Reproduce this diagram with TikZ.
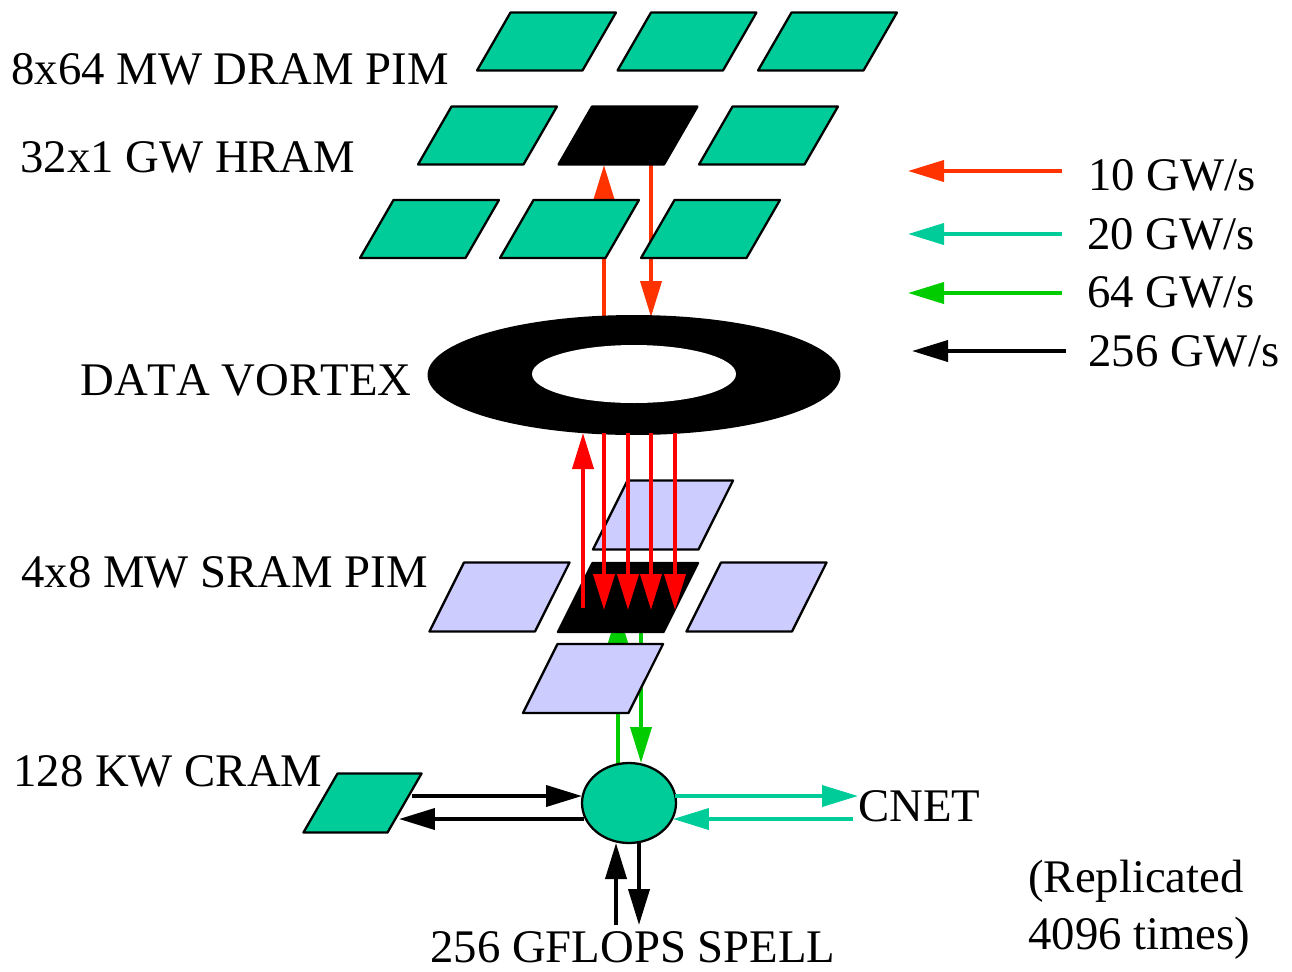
\documentclass[tikz,border=0pt]{standalone}
\usepackage{fontspec}
\setmainfont[Kerning=Off]{Liberation Serif}
\usepackage{tikz}
\usetikzlibrary{arrows.meta,shapes.geometric}

\definecolor{cellteal}{RGB}{0,204,153}
\definecolor{celllav}{RGB}{204,204,255}
\definecolor{arcorange}{RGB}{255,51,0}
\definecolor{arcgreen}{RGB}{0,204,0}

\tikzset{
    cell/.style 2 args={draw=black,line width=1.3pt,line join=round,trapezium,
        trapezium left angle=60,trapezium right angle=120,inner sep=0,outer sep=0,
        execute at begin node={\phantom{\rule{#1}{#2}}}},
    srcell/.style={cell={1.42cm}{1.38cm},fill=celllav,trapezium left angle=63.4,trapezium right angle=116.6},
    dramcell/.style={cell={1.44cm}{1.16cm},fill=cellteal},
    cramcell/.style={cell={1cm}{1.18cm},fill=cellteal},
    arc/.style={line width=2.2pt,-{Triangle[length=.72cm,width=.42cm]}},
    lbl/.style={anchor=base west,inner sep=0,font=\fontsize{26.6}{30}\selectfont},
}

\begin{document}
\begin{tikzpicture}[x=.02cm,y=-.02cm]
        \useasboundingbox (0,0) rectangle (1292,971);

        %%%% Invisible ends ============================
        \coordinate (vtop1) at (604,318);
        \coordinate (vtop2) at (651,317);
        \coordinate (hram1) at (604,165);
        \coordinate (hram2) at (651,165);
        \coordinate (vbot0) at (583,433);
        \coordinate (vbot1) at (604,433);
        \coordinate (vbot2) at (628,433);
        \coordinate (vbot3) at (651,433);
        \coordinate (vbot4) at (675,433);
        \coordinate (sram0) at (583,608);
        \coordinate (sram1) at (604,610);
        \coordinate (sram2) at (628,610);
        \coordinate (sram3) at (651,610);
        \coordinate (sram4) at (675,610);
        \coordinate (sgreen1) at (618,610);
        \coordinate (sgreen2) at (641,632);
        \coordinate (pgreen1) at (618,767);
        \coordinate (pgreen2) at (641,763);

        %%%% Arcs behind the cells =====================
        \draw[arc,arcorange] (vtop1) -- (hram1);
        \draw[arc,arcorange] (hram2) -- (vtop2);
        \draw[arc,arcgreen] (pgreen1) -- (sgreen1);
        \draw[arc,arcgreen] (sgreen2) -- (pgreen2);

        %%%% DRAM and HRAM =============================
        \node[dramcell] (dram1) at (546.5,41.5) {};
        \node[dramcell] (dram2) at (687,41.5) {};
        \node[dramcell] (dram3) at (827.5,41.5) {};
        \node[dramcell] (dram4) at (487.5,135.5) {};
        \node[dramcell,fill=black] (hram) at (628,135.5) {};
        \node[dramcell] (dram5) at (768.5,135.5) {};
        \node[dramcell] (dram6) at (429.5,229) {};
        \node[dramcell] (dram7) at (569.5,229) {};
        \node[dramcell] (dram8) at (710.5,229) {};

        %%%% Vortex ====================================
        \node[ellipse,fill=black,inner sep=0,minimum width=8.26cm,minimum height=2.4cm] (vortex) at (634,375) {};
        \node[ellipse,fill=white,inner sep=0,minimum width=4.08cm,minimum height=1.16cm] (hole) at (634,374) {};

        %%%% SRAM ======================================
        \node[srcell] (sram5) at (663,515) {};
        \node[srcell] (sram6) at (499.5,597) {};
        \node[srcell,fill=black] (sram) at (628,597.5) {};
        \node[srcell] (sram7) at (756.5,597) {};
        \node[srcell] (sram8) at (593,678.5) {};

        %%%% Red arcs ==================================
        \draw[arc,red] (sram0) -- (vbot0);
        \draw[arc,red] (vbot1) -- (sram1);
        \draw[arc,red] (vbot2) -- (sram2);
        \draw[arc,red] (vbot3) -- (sram3);
        \draw[arc,red] (vbot4) -- (sram4);

        %%%% Processor =================================
        \node[cramcell] (cram) at (362.5,803) {};
        \node[ellipse,draw=black,line width=1.3pt,fill=cellteal,inner sep=0,outer sep=0,
            minimum width=1.88cm,minimum height=1.6cm] (proc) at (629,803) {};

        \coordinate (cramout) at (412,796);
        \coordinate (cramin) at (399,819);
        \coordinate (procin) at (582,796);
        \coordinate (procout) at (584,819);
        \coordinate (cnetout) at (675,796);
        \coordinate (cnetin) at (673,819);
        \coordinate (cnetend) at (858,796);
        \coordinate (cnetstart) at (853,819);
        \coordinate (spellup) at (616,925);
        \coordinate (procup) at (616,843);
        \coordinate (procdown) at (639,842);
        \coordinate (spelldown) at (639,925);

        \draw[arc,black] (cramout) -- (procin);
        \draw[arc,black] (procout) -- (cramin);
        \draw[arc,cellteal] (cnetout) -- (cnetend);
        \draw[arc,cellteal] (cnetstart) -- (cnetin);
        \draw[arc,black] (spellup) -- (procup);
        \draw[arc,black] (procdown) -- (spelldown);

        %%%% Legend ====================================
        \coordinate (leg1a) at (1062,171);
        \coordinate (leg1b) at (908,171);
        \coordinate (leg2a) at (1062,234);
        \coordinate (leg2b) at (908,234);
        \coordinate (leg3a) at (1062,293);
        \coordinate (leg3b) at (908,293);
        \coordinate (leg4a) at (1066,351);
        \coordinate (leg4b) at (912,351);
        \draw[arc,arcorange] (leg1a) -- (leg1b);
        \draw[arc,cellteal] (leg2a) -- (leg2b);
        \draw[arc,arcgreen] (leg3a) -- (leg3b);
        \draw[arc,black] (leg4a) -- (leg4b);
        \node[lbl] (rate1) at (1088,190) {10 GW/s};
        \node[lbl] (rate2) at (1087,249) {20 GW/s};
        \node[lbl] (rate3) at (1087,307) {64 GW/s};
        \node[lbl] (rate4) at (1088,366) {256 GW/s};

        %%%% Labels ====================================
        \node[lbl] (ldram) at (11,84) {8x64 MW DRAM PIM};
        \node[lbl] (lhram) at (20,172) {32x1 GW HRAM};
        \node[lbl] (lvortex) at (80,395) {DATA VORTEX};
        \node[lbl] (lsram) at (21,587) {4x8 MW SRAM PIM};
        \node[lbl] (lcram) at (13,786) {128 KW CRAM};
        \node[lbl] (lcnet) at (858,821) {CNET};
        \node[lbl] (lspell) at (430,962) {256 GFLOPS SPELL};
        \node[lbl] (lrep1) at (1028,892) {(Replicated};
        \node[lbl] (lrep2) at (1028,949) {4096 times)};
    \end{tikzpicture}
\end{document}
